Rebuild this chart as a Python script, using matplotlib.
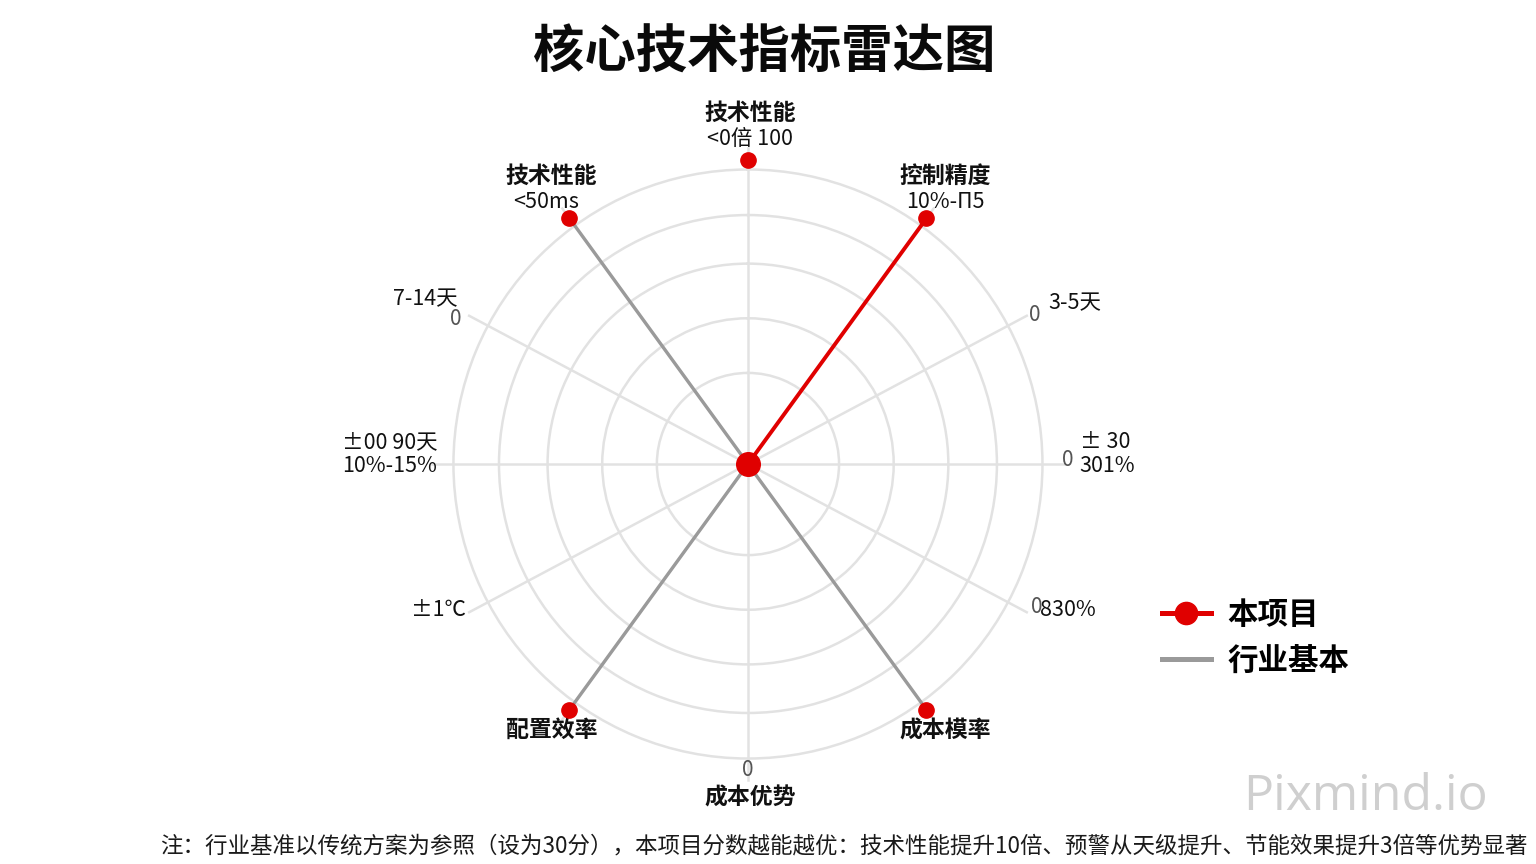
import numpy as np
import matplotlib
matplotlib.use("Agg")
import matplotlib.pyplot as plt
from matplotlib.lines import Line2D
from matplotlib.legend_handler import HandlerLine2D

plt.rcParams['font.family'] = ['Noto Sans CJK SC', 'DejaVu Sans']

# ---------------- data ----------------
title = "核心技术指标雷达图"
axis_names = ["技术性能", "控制精度", "", "", "", "成本模率",
              "成本优势", "配置效率", "", "", "", "技术性能"]
axis_values = ["<0倍 100", "10%-Π5", "3-5天", "± 30\n301%", "830%", "",
               "", "", "±1℃", "±00 90天\n10%-15%", "7-14天", "<50ms"]
zero_marks = ["", "", "0", "0", "0", "", "0", "", "", "", "0", ""]
project_scores = [100, 100, 0, 0, 0, 100, 0, 100, 0, 0, 0, 100]
project_ray = [0, 100, 0, 0, 0, 0, 0, 0, 0, 0, 0, 0]
baseline_ray = [0, 0, 0, 0, 0, 100, 0, 100, 0, 0, 0, 100]
ring_levels = [30, 48, 66, 82, 97]
legend_labels = ["本项目", "行业基本"]
note = ("注：行业基准以传统方案为参照（设为30分），本项目分数越能越优：技术性能提升10倍、"
        "预警从天级提升、节能效果提升3倍等优势显著")

# ---------------- layout ----------------
axis_angles_deg = [0, 36, 62, 90, 118, 144, 180, 216, 242, 270, 298, 324]
theta = np.deg2rad(axis_angles_deg)

RED = "#e00000"
GRAY = "#9a9a9a"
GRID = "#e2e2e2"

fig = plt.figure(figsize=(15.36, 8.64), dpi=100)
fig.patch.set_facecolor("white")
ax = fig.add_axes([0.2695, 0.0764, 0.4349, 0.7731], projection="polar")
ax.set_theta_offset(np.pi / 2)
ax.set_theta_direction(-1)
ax.set_ylim(0, 110)
ax.set_facecolor("none")
ax.spines["polar"].set_visible(False)
ax.set_xticks([])
ax.set_yticks(ring_levels)
ax.set_yticklabels([])
ax.yaxis.grid(True, color=GRID, linewidth=1.8)
ax.xaxis.grid(False)

# spokes
for t in theta:
    ax.plot([t, t], [0, 104], color=GRID, linewidth=1.8, zorder=1, clip_on=False)

# baseline rays
for t, v in zip(theta, baseline_ray):
    if v > 0:
        ax.plot([t, t], [0, v], color=GRAY, linewidth=2.4, zorder=3, clip_on=False)

# project rays
for t, v in zip(theta, project_ray):
    if v > 0:
        ax.plot([t, t], [0, v], color=RED, linewidth=2.8, zorder=4, clip_on=False)

# project dots
for t, v in zip(theta, project_scores):
    if v > 0:
        ax.plot([t], [v], 'o', color=RED, markersize=11, zorder=5, clip_on=False)
ax.plot([0], [0], 'o', color=RED, markersize=17, zorder=6)

# label offsets in pixels from the r=100 point of each axis
name_off = {0: (2, 47), 1: (19, 42), 5: (19, -21), 6: (2, -30), 7: (-18, -21), 11: (-18, 42)}
val_off = {0: (2, 21, "center"), 1: (19, 16, "center"), 2: (32, 18, "left"),
           3: (28, 10, "left"), 4: (24, -3, "left"), 8: (-14, -3, "right"),
           9: (-7, 10, "right"), 10: (-22, 22, "right"), 11: (-23, 16, "center")}
zero_off = {2: (19, 6), 3: (16, 4), 4: (21, 0), 6: (0, -2), 10: (-24, 2)}

for i, t in enumerate(theta):
    if axis_names[i]:
        dx, dy = name_off[i]
        ax.annotate(axis_names[i], xy=(t, 100), xytext=(dx, dy), textcoords="offset pixels",
                    ha="center", va="center", fontsize=16.5, fontweight="bold", color="#111111",
                    annotation_clip=False)
    if axis_values[i]:
        dx, dy, ha = val_off[i]
        ax.annotate(axis_values[i], xy=(t, 100), xytext=(dx, dy), textcoords="offset pixels",
                    ha=ha, va="center", fontsize=15.5, fontweight="medium", color="#111111",
                    linespacing=1.1, annotation_clip=False)
    if zero_marks[i]:
        dx, dy = zero_off[i]
        ax.annotate(zero_marks[i], xy=(t, 100), xytext=(dx, dy), textcoords="offset pixels",
                    ha="center", va="center", fontsize=15, color="#555555",
                    annotation_clip=False)

# title
fig.text(764 / 1536, 1 - 52 / 864, title, ha="center", va="center",
         fontsize=37, fontweight="heavy", color="#0a0a0a")


# legend
class EndMarkerHandler(HandlerLine2D):
    def create_artists(self, legend, orig_handle, xdescent, ydescent, width, height, fontsize, trans):
        arts = super().create_artists(legend, orig_handle, xdescent, ydescent, width, height, fontsize, trans)
        if len(arts) == 2:
            line, mk = arts
            xd = line.get_xdata()
            mk.set_xdata([xd[-1] - 0.1 * (xd[-1] - xd[0])])
        return arts


h_proj = Line2D([], [], color=RED, linewidth=3.6, marker="o", markersize=16)
h_base = Line2D([], [], color=GRAY, linewidth=3.6)
leg = fig.legend([h_proj, h_base], legend_labels, loc="center left",
                 bbox_to_anchor=(1162 / 1536, 1 - 638 / 864), frameon=False,
                 prop={"size": 22, "weight": "bold"}, handlelength=1.6, handletextpad=0.55,
                 labelspacing=0.45, borderpad=0, borderaxespad=0,
                 handler_map={h_proj: EndMarkerHandler()})

# footnote
fig.text(160 / 1536, 1 - 846 / 864, note, ha="left", va="center", fontsize=16.2, color="#1a1a1a")

# watermark
fig.text(1365 / 1536, 1 - 797 / 864, "Pixmind.io", ha="center", va="center",
         fontsize=36, color="#cfcfcf", family=["Open Sans", "DejaVu Sans"])

fig.savefig("out.png", dpi=100, facecolor="white")
